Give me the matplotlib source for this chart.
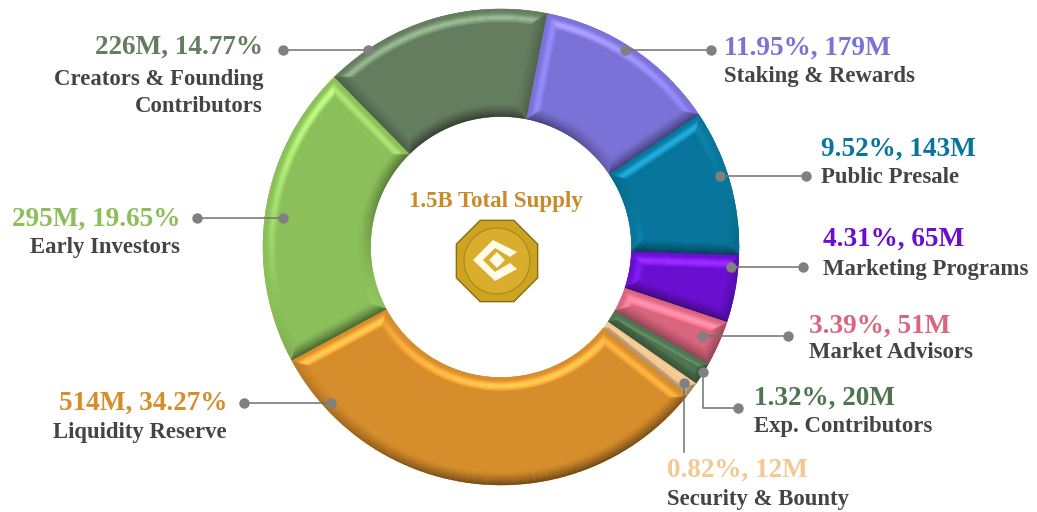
import matplotlib
matplotlib.use('Agg')
import matplotlib.pyplot as plt
import numpy as np
from matplotlib.collections import LineCollection
from matplotlib.colors import to_rgb
from matplotlib.patches import Circle, Polygon, RegularPolygon, Wedge

plt.rcParams['font.family'] = ['Liberation Serif', 'DejaVu Serif']

# clockwise from the top, starting at the creators/staking border
names = [['Staking & Rewards'], ['Public Presale'], ['Marketing Programs'], ['Market Advisors'],
         ['Exp. Contributors'], ['Security & Bounty'], ['Liquidity Reserve'], ['Early Investors'],
         ['Creators & Founding', 'Contributors']]
headings = ['11.95%, 179M', '9.52%, 143M', '4.31%, 65M', '3.39%, 51M', '1.32%, 20M',
            '0.82%, 12M', '514M, 34.27%', '295M, 19.65%', '226M, 14.77%']
# arc of each slice in degrees (differs a bit from the printed percents)
arcs = [45.1, 35.8, 16.4, 11.0, 5.6, 3.6, 113.0, 74.0, 55.5]
colors = ['#7a72d6', '#08769c', '#6a0fd0', '#d9667f', '#4f7550', '#f3c893', '#d68d2b', '#8bbf5a', '#647d5f']
start_angle = 78.9

fig = plt.figure(figsize=(10.37, 5.12), dpi=100)
ax = fig.add_axes([0, 0, 1, 1])
ax.set_xlim(0, 1037)
ax.set_ylim(512, 0)
ax.set_aspect('equal')
ax.axis('off')

cx, cy = 501, 247
outer_r = 238
hole_r = 130.5
bevel = 13
light_dir = 105.0


def bevel_color(base, normal_deg, depth):
    # normal_deg is the way the edge faces on screen, depth goes 0 (rim) to 1 (flat part)
    base = np.array(to_rgb(base))
    shade = np.cos(np.radians(normal_deg - light_dir))
    if shade > 0:
        amount = shade * np.exp(-((depth - 0.68) / 0.28) ** 2)
        # brighten the hue more than whiten it
        return tuple(np.clip(base * (1 + 0.32 * amount) + 0.1 * amount, 0, 1))
    amount = -shade * 0.5 * (1 - depth) ** 1.2
    return tuple(base * (1 - amount))


def xy(r, deg):
    return cx + r * np.cos(np.radians(deg)), cy - r * np.sin(np.radians(deg))


def draw_slice(a_start, a_end, base):
    # a_start > a_end, going clockwise on screen
    ax.add_patch(Wedge((cx, cy), outer_r, -a_start, -a_end, width=outer_r - hole_r,
                       facecolor=base, edgecolor=base, lw=0.3, zorder=2))
    segs, cols = [], []
    for d in np.arange(0.5, bevel, 1.0):
        ro, ri = outer_r - d, hole_r + d
        hi_o, lo_o = a_start - np.degrees(d / ro), a_end + np.degrees(d / ro)
        hi_i, lo_i = a_start - np.degrees(d / ri), a_end + np.degrees(d / ri)
        if hi_i <= lo_i or hi_o <= lo_o:
            break
        depth = d / bevel
        # outer and inner arcs, cut in short pieces as the shade changes along them
        for r, hi, lo, flip in ((ro, hi_o, lo_o, 0), (ri, hi_i, lo_i, 180)):
            ticks = np.linspace(hi, lo, max(2, int((hi - lo) / 2) + 2))
            for t1, t2 in zip(ticks[:-1], ticks[1:]):
                segs.append([xy(r, t1), xy(r, t2)])
                cols.append(bevel_color(base, (t1 + t2) / 2 + flip, depth))
        # the two straight sides
        segs.append([xy(ro, hi_o), xy(ri, hi_i)])
        cols.append(bevel_color(base, a_start + 90, depth))
        segs.append([xy(ro, lo_o), xy(ri, lo_i)])
        cols.append(bevel_color(base, a_end - 90, depth))
    ax.add_collection(LineCollection(segs, colors=cols, linewidths=1.0, capstyle='round', zorder=3))


angle = start_angle
for arc, col in zip(arcs, colors):
    draw_slice(angle, angle - arc, col)
    angle -= arc

# heading x, heading y, name y per line, alignment
label_pos = [(724, 48.5, [76.5], 'left'), (821, 149.5, [177.5], 'left'), (823, 239.5, [269.5], 'left'),
             (809, 326.5, [352.5], 'left'), (754, 398.5, [426.5], 'left'), (667, 470.5, [500], 'left'),
             (227, 403.5, [432.5], 'right'), (180, 219.5, [247.5], 'right'), (263, 47.5, [79.5, 106.5], 'right')]
leaders = [((711, 50), (625, 50)), ((806, 176), (720, 176)), ((803, 267), (731, 267)),
           ((788, 336), (702, 336)), ((738, 408), (703, 408), (703, 372)),
           ((684, 452), (684, 383)), ((244, 403), (331, 403)), ((197, 218), (283, 218)),
           ((283, 50), (368, 50))]
leader_dots = [(711, 50), (625, 50), (806, 176), (720, 176), (803, 267), (731, 267), (788, 336), (702, 336),
               (738, 408), (703, 372), (684, 383), (244, 403), (331, 403), (197, 218), (283, 218),
               (283, 50), (368, 50)]

for pts in leaders:
    ax.plot([p[0] for p in pts], [p[1] for p in pts], color='#707070', lw=1.1, zorder=4)
for p in leader_dots:
    ax.plot(p[0], p[1], 'o', color='#808080', ms=7.5, mew=0, zorder=5)

for (x, y, name_ys, ha), head, lines, col in zip(label_pos, headings, names, colors):
    ax.text(x, y, head, color=col, fontsize=19.6, fontweight='bold', ha=ha, va='center')
    for name_y, line in zip(name_ys, lines):
        ax.text(x, name_y, line, color='#444444', fontsize=16.4, fontweight='bold', ha=ha, va='center')

# total and the coin logo in the hole
ax.text(496, 202, '1.5B Total Supply', color='#c98a2a', fontsize=16.5, fontweight='bold', ha='center', va='center')
ax.add_patch(RegularPolygon((497, 261), 8, radius=44, orientation=np.pi / 8, facecolor='#cda322', edgecolor='#8a6a12', lw=1, zorder=5))
ax.add_patch(Circle((497, 261), 33, facecolor='#d8ae2c', edgecolor='#a98718', lw=0.8, zorder=6))
ax.add_patch(Polygon([(493, 240), (473, 260), (495, 281), (517, 269), (510, 263), (495, 272),
                      (483, 260), (495, 248), (510, 257), (517, 252)],
                     facecolor='#fffbe8', edgecolor='none', zorder=7))
ax.add_patch(RegularPolygon((497, 260), 4, radius=8, facecolor='#fffbe8', edgecolor='none', zorder=7))

fig.savefig('out.png', dpi=100)
